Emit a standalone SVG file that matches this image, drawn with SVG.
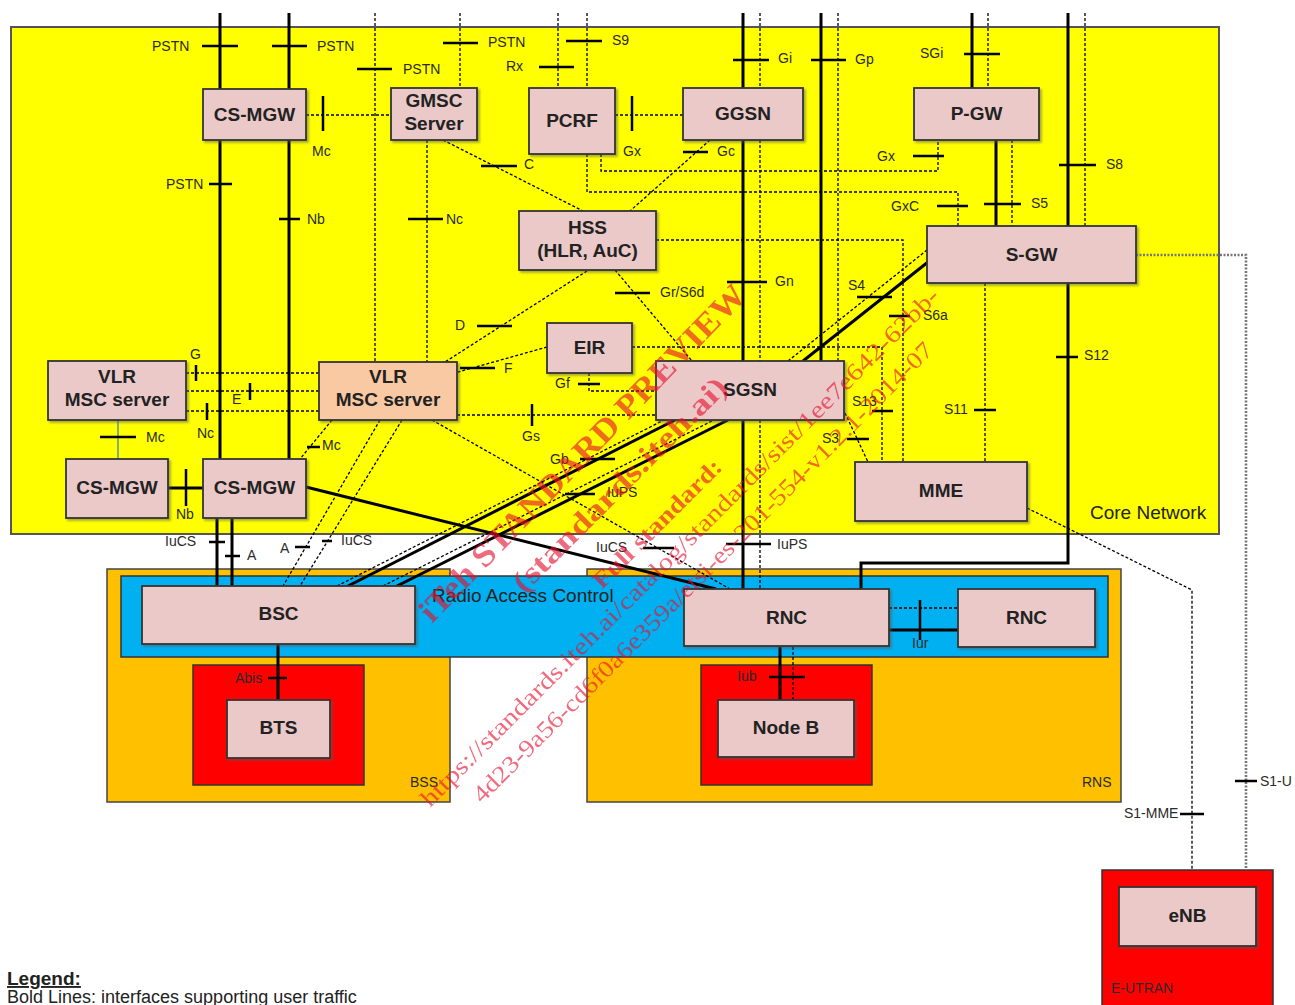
<svg xmlns="http://www.w3.org/2000/svg" width="1295" height="1005" viewBox="0 0 1295 1005">
<defs>
<style>
.b{stroke:#000;stroke-width:3;fill:none}
.d{stroke:#000;stroke-width:1.3;fill:none;stroke-dasharray:3 2}
.g{stroke:#777;stroke-width:2.6;fill:none;stroke-dasharray:2 1.5}
.t{stroke:#000;stroke-width:2.5;fill:none}
.n rect{fill:#EBC9C9;stroke:#333;stroke-width:1.8}
.n.o rect{fill:#F9C9A3}
.n text{font-family:"Liberation Sans",Arial,sans-serif;font-weight:bold;font-size:19px;fill:#222;text-anchor:middle}
.l{font-family:"Liberation Sans",Arial,sans-serif;font-size:14px;fill:#2a2a2a}
.big{font-family:"Liberation Sans",Arial,sans-serif;font-size:19px;fill:#222}
.wm{font-family:"Liberation Serif","Times New Roman",serif;fill:#E8102E;opacity:0.62}
</style>
<filter id="sh" x="-10%" y="-10%" width="130%" height="140%"><feDropShadow dx="2" dy="2" stdDeviation="0.8" flood-color="#555" flood-opacity="0.5"/></filter>
</defs>
<rect width="1295" height="1005" fill="#fff"/>

<g id="containers">
<rect x="11" y="27" width="1208" height="507" fill="#FFFF00" stroke="#555" stroke-width="2"/>
<rect x="107" y="569" width="343" height="233" fill="#FFC000" stroke="#444" stroke-width="1.5"/>
<rect x="587" y="569" width="534" height="233" fill="#FFC000" stroke="#444" stroke-width="1.5"/>
<rect x="121" y="576" width="987" height="81" fill="#00B0F0" stroke="#333" stroke-width="1.5"/>
<rect x="193" y="665" width="171" height="120" fill="#FF0000" stroke="#333" stroke-width="1.5"/>
<rect x="701" y="665" width="171" height="120" fill="#FF0000" stroke="#333" stroke-width="1.5"/>
<rect x="1102" y="870" width="171" height="145" fill="#FF0000" stroke="#333" stroke-width="1.5"/>
</g>

<g id="connectors">
<path class="b" d="M220,13V89M220,140V459M289,13V89M289,140V459M217,518V586M232,518V586M168,488H203M743,13V88M743,140V361M743,420V589M821,13V361M972,13V88M996,140V226M1068,13V226M1068,283V563H861V589M803,361L928,262M348,586L675,420M397,586L728,420M306,487L716,589M278,644V700M780,647V700M889,630H958"/>
<path class="d" d="M306,115H391M375,13V362M460,13V88M427,140V362M443,140L583,211M558,13V88M587,13V88M615,115H683M601,154V171H938V140M587,154V192H958V226M760,13V88M760,140V361M760,420V589M838,13V361M710,140L630,211M988,13V88M1012,140V226M1085,13V226M985,283V462M656,240H903V462M632,347H882V462M615,270L692,361M587,271L445,362M547,347L458,372M589,373V391H656M457,415H656M186,373H319M186,391H319M186,411H319M332,420L300,459M380,420L283,586M402,420L300,586M432,420L730,589M337,586L664,420M383,586L714,420M788,361L927,250M845,413L868,462M793,647V700M889,608H958M1027,508L1192,590V870"/>
<path class="g" d="M1136,255H1246V870"/>
<path d="M118,420V459" stroke="#4A7EBB" stroke-width="1.3" fill="none"/>
<path class="t" d="M202,46H238M272,46H307M209,184H232M279,219H300M323,96V131M357,69H392M443,43H478M408,219H443M481,166H517M539,67H574M566,41H602M632,96V131M913,156H944M937,206H968M733,60H769M811,60H846M683,152H708M964,54H1000M984,204H1021M1059,165H1096M1056,357H1078M974,410H996M727,282H767M857,297H892M889,316H910M872,411H893M847,439H869M615,293H650M477,326H512M460,368H495M578,384H600M532,404V426M196,365V381M250,383V400M207,403V420M100,437H136M186,469V506M307,447H320M209,542H225M225,556H240M295,547H310M322,541H332M580,459H615M565,494H595M643,548H674M726,544H771M268,678H287M769,677H805M920,600V640M1180,814H1204M1235,781H1257"/>
</g>

<g id="labels" class="l">
<text x="152" y="51">PSTN</text>
<text x="317" y="51">PSTN</text>
<text x="166" y="189">PSTN</text>
<text x="307" y="224">Nb</text>
<text x="312" y="156">Mc</text>
<text x="403" y="74">PSTN</text>
<text x="488" y="47">PSTN</text>
<text x="446" y="224">Nc</text>
<text x="524" y="169">C</text>
<text x="506" y="71">Rx</text>
<text x="612" y="45">S9</text>
<text x="623" y="156">Gx</text>
<text x="717" y="156">Gc</text>
<text x="778" y="63">Gi</text>
<text x="855" y="64">Gp</text>
<text x="920" y="58">SGi</text>
<text x="877" y="161">Gx</text>
<text x="891" y="211">GxC</text>
<text x="1031" y="208">S5</text>
<text x="1106" y="169">S8</text>
<text x="775" y="286">Gn</text>
<text x="660" y="297">Gr/S6d</text>
<text x="848" y="290">S4</text>
<text x="923" y="320">S6a</text>
<text x="1084" y="360">S12</text>
<text x="944" y="414">S11</text>
<text x="852" y="406">S13</text>
<text x="822" y="443">S3</text>
<text x="455" y="330">D</text>
<text x="504" y="373">F</text>
<text x="555" y="388">Gf</text>
<text x="522" y="441">Gs</text>
<text x="190" y="359">G</text>
<text x="232" y="404">E</text>
<text x="197" y="438">Nc</text>
<text x="146" y="442">Mc</text>
<text x="176" y="519">Nb</text>
<text x="322" y="450">Mc</text>
<text x="165" y="546">IuCS</text>
<text x="247" y="560">A</text>
<text x="280" y="553">A</text>
<text x="341" y="545">IuCS</text>
<text x="550" y="464">Gb</text>
<text x="607" y="497">IuPS</text>
<text x="596" y="552">IuCS</text>
<text x="777" y="549">IuPS</text>
<text x="235" y="683">Abis</text>
<text x="737" y="681">Iub</text>
<text x="912" y="648">Iur</text>
<text x="410" y="787">BSS</text>
<text x="1082" y="787">RNS</text>
<text x="1124" y="818">S1-MME</text>
<text x="1260" y="786">S1-U</text>
<text x="1111" y="993">E-UTRAN</text>
<text class="big" x="1090" y="519">Core Network</text>
<text class="big" x="432" y="602">Radio Access Control</text>
</g>

<g id="cs-mgw-top" class="n"><rect x="203" y="89" width="103" height="51" filter="url(#sh)"/><text x="254.5" y="121">CS-MGW</text></g>
<g id="gmsc" class="n"><rect x="391" y="88" width="86" height="52" filter="url(#sh)"/><text x="434" y="107">GMSC</text><text x="434" y="130">Server</text></g>
<g id="pcrf" class="n"><rect x="529" y="88" width="86" height="66" filter="url(#sh)"/><text x="572" y="127">PCRF</text></g>
<g id="ggsn" class="n"><rect x="683" y="88" width="120" height="52" filter="url(#sh)"/><text x="743" y="120">GGSN</text></g>
<g id="pgw" class="n"><rect x="914" y="88" width="125" height="52" filter="url(#sh)"/><text x="976.5" y="120">P-GW</text></g>
<g id="hss" class="n"><rect x="519" y="211" width="137" height="59" filter="url(#sh)"/><text x="587.5" y="234">HSS</text><text x="587.5" y="257">(HLR, AuC)</text></g>
<g id="sgw" class="n"><rect x="927" y="226" width="209" height="57" filter="url(#sh)"/><text x="1031.5" y="261">S-GW</text></g>
<g id="eir" class="n"><rect x="547" y="323" width="85" height="50" filter="url(#sh)"/><text x="589.5" y="354">EIR</text></g>
<g id="vlr-left" class="n"><rect x="48" y="361" width="138" height="59" filter="url(#sh)"/><text x="117" y="383">VLR</text><text x="117" y="406">MSC server</text></g>
<g id="vlr-center" class="n o"><rect x="319" y="362" width="138" height="58" filter="url(#sh)"/><text x="388" y="383">VLR</text><text x="388" y="406">MSC server</text></g>
<g id="sgsn" class="n"><rect x="656" y="361" width="188" height="59" filter="url(#sh)"/><text x="750" y="396">SGSN</text></g>
<g id="mme" class="n"><rect x="855" y="462" width="172" height="59" filter="url(#sh)"/><text x="941" y="497">MME</text></g>
<g id="cs-mgw-bl" class="n"><rect x="66" y="459" width="102" height="59" filter="url(#sh)"/><text x="117" y="494">CS-MGW</text></g>
<g id="cs-mgw-br" class="n"><rect x="203" y="459" width="103" height="59" filter="url(#sh)"/><text x="254.5" y="494">CS-MGW</text></g>
<g id="bsc" class="n"><rect x="142" y="586" width="273" height="58" filter="url(#sh)"/><text x="278.5" y="620">BSC</text></g>
<g id="bts" class="n"><rect x="227" y="700" width="103" height="58" filter="url(#sh)"/><text x="278.5" y="734">BTS</text></g>
<g id="rnc" class="n"><rect x="684" y="589" width="205" height="57" filter="url(#sh)"/><text x="786.5" y="624">RNC</text></g>
<g id="rnc2" class="n"><rect x="958" y="589" width="137" height="58" filter="url(#sh)"/><text x="1026.5" y="624">RNC</text></g>
<g id="nodeb" class="n"><rect x="718" y="700" width="136" height="57" filter="url(#sh)"/><text x="786" y="734">Node B</text></g>
<g id="enb" class="n"><rect x="1119" y="887" width="137" height="59" filter="url(#sh)"/><text x="1187.5" y="922">eNB</text></g>

<g id="legend">
<text x="7" y="985" font-family="Liberation Sans, Arial, sans-serif" font-weight="bold" font-size="19" fill="#222" text-decoration="underline">Legend:</text>
<text x="7" y="1003" font-family="Liberation Sans, Arial, sans-serif" font-size="18" fill="#222">Bold Lines: interfaces supporting user traffic</text>
</g>

<g id="watermark" class="wm">
<text transform="translate(432,624) rotate(-46)" font-weight="bold" font-size="33" textLength="455" lengthAdjust="spacingAndGlyphs">iTeh STANDARD PREVIEW</text>
<text transform="translate(524,594) rotate(-45)" font-weight="bold" font-size="30" textLength="290" lengthAdjust="spacingAndGlyphs">(standards.iteh.ai)</text>
<text transform="translate(602,590) rotate(-45)" font-weight="bold" font-size="24" textLength="172" lengthAdjust="spacingAndGlyphs">Full standard:</text>
<text transform="translate(430,808) rotate(-45)" font-size="24" textLength="722" lengthAdjust="spacingAndGlyphs">https://standards.iteh.ai/catalog/standards/sist/1ee7e642-62bb-</text>
<text transform="translate(482,804) rotate(-45)" font-size="24" textLength="640" lengthAdjust="spacingAndGlyphs">4d23-9a56-cd6f0a6e359a/etsi-es-201-554-v1.2.1-2014-07</text>
</g>
</svg>
